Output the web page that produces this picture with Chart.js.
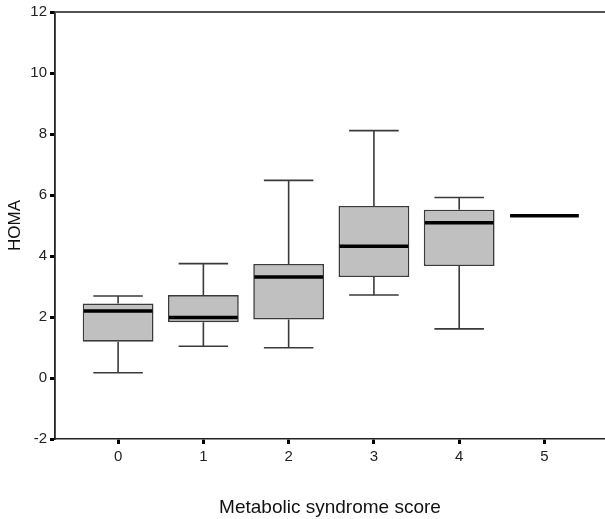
<!DOCTYPE html>
<html>
<head>
<meta charset="utf-8">
<script src="https://cdn.jsdelivr.net/npm/chart.js@4.4.1/dist/chart.umd.min.js"></script>
<style>
html,body{margin:0;padding:0;background:#fff;}
#c{display:block;}
</style>
</head>
<body>
<canvas id="c" width="605" height="519"></canvas>
<script>
// Data
const categories  = [0, 1, 2, 3, 4, 5];
const whiskerLow  = [0.17, 1.04, 0.99, 2.72, 1.61, null];
const q1          = [1.19, 1.83, 1.92, 3.31, 3.67, null];
const median      = [2.20, 1.98, 3.31, 4.32, 5.09, 5.32];
const q3          = [2.44, 2.72, 3.74, 5.64, 5.52, null];
const whiskerHigh = [2.69, 3.75, 6.48, 8.11, 5.92, null];
const yTicks      = [-2, 0, 2, 4, 6, 8, 10, 12];

const boxData = categories.map((c, i) =>
  (q1[i] == null || q3[i] == null) ? {x: c, y: null} : {x: c, y: [q1[i], q3[i]]});

const FONT = "'Liberation Sans', Arial, sans-serif";

const boxPlugin = {
  id: 'boxExtras',
  beforeDatasetsDraw(chart) {
    const {ctx} = chart;
    const xs = chart.scales.x, ys = chart.scales.y;
    const meta = chart.getDatasetMeta(0);
    ctx.save();
    ctx.strokeStyle = '#3a3a3a';
    ctx.lineWidth = 1.6;
    categories.forEach((c, i) => {
      if (whiskerLow[i] == null) return;
      const x = xs.getPixelForValue(c);
      const bw = meta.data[i] ? meta.data[i].width : 70;
      const cap = bw * 0.35;
      const pairs = [[q1[i], whiskerLow[i]], [q3[i], whiskerHigh[i]]];
      pairs.forEach(([from, to]) => {
        const y0 = ys.getPixelForValue(from), y1 = ys.getPixelForValue(to);
        ctx.beginPath();
        ctx.moveTo(x, y0); ctx.lineTo(x, y1);
        ctx.moveTo(x - cap, y1); ctx.lineTo(x + cap, y1);
        ctx.stroke();
      });
    });
    ctx.restore();
  },
  afterDatasetsDraw(chart) {
    const {ctx, chartArea} = chart;
    const xs = chart.scales.x, ys = chart.scales.y;
    const meta = chart.getDatasetMeta(0);
    let refW = 70;
    meta.data.forEach(el => { if (el && el.width) refW = el.width; });
    ctx.save();
    ctx.strokeStyle = '#000';
    ctx.lineWidth = 3.5;
    categories.forEach((c, i) => {
      if (median[i] == null) return;
      const x = xs.getPixelForValue(c);
      const y = ys.getPixelForValue(median[i]);
      const half = refW / 2 - 1;
      ctx.beginPath();
      ctx.moveTo(x - half, y); ctx.lineTo(x + half, y);
      ctx.stroke();
    });
    // top frame line
    ctx.strokeStyle = '#555';
    ctx.lineWidth = 2;
    ctx.beginPath();
    ctx.moveTo(chartArea.left, chartArea.top);
    ctx.lineTo(chartArea.right, chartArea.top);
    ctx.stroke();
    ctx.restore();
  }
};

new Chart(document.getElementById('c'), {
  type: 'bar',
  data: {
    datasets: [{
      data: boxData,
      backgroundColor: '#c0c0c0',
      borderColor: '#3a3a3a',
      borderWidth: 1.6,
      borderSkipped: false,
      barPercentage: 0.83,
      categoryPercentage: 1
    }]
  },
  options: {
    responsive: false,
    animation: false,
    events: [],
    layout: {padding: {top: 12, right: 0, left: 0, bottom: 0}},
    plugins: {legend: {display: false}, tooltip: {enabled: false}},
    scales: {
      x: {
        type: 'linear',
        offset: false,
        min: -0.74,
        max: 5.71,
        afterBuildTicks: s => { s.ticks = categories.map(v => ({value: v})); },
        afterFit: s => { s.height = 80; },
        grid: {offset: false, drawOnChartArea: false, drawTicks: true, tickLength: 5, tickWidth: 3, tickColor: '#000'},
        border: {display: true, color: '#222', width: 1.6},
        ticks: {color: '#222', font: {family: FONT, size: 15}, padding: 4, autoSkip: false, maxRotation: 0},
        title: {display: true, text: 'Metabolic syndrome score', color: '#111',
                font: {family: FONT, size: 19}, padding: {top: 0, bottom: 0}}
      },
      y: {
        min: -2,
        max: 12,
        afterBuildTicks: s => { s.ticks = yTicks.map(v => ({value: v})); },
        afterFit: s => { s.width = 55; },
        grid: {drawOnChartArea: false, drawTicks: true, tickLength: 5, tickWidth: 3, tickColor: '#000'},
        border: {display: true, color: '#222', width: 1.8},
        ticks: {color: '#222', font: {family: FONT, size: 15}, padding: 3},
        title: {display: true, text: 'HOMA', color: '#111',
                font: {family: FONT, size: 17}, padding: {top: 5, bottom: 0}}
      }
    }
  },
  plugins: [boxPlugin]
});
</script>
</body>
</html>
